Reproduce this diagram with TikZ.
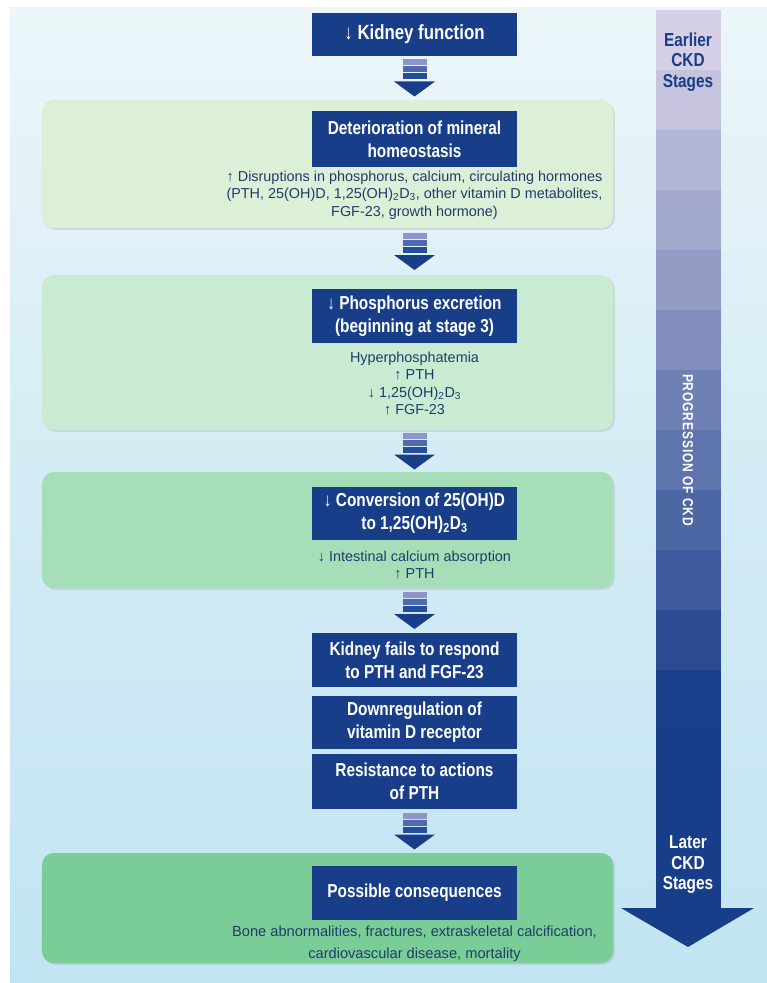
\documentclass[tikz,border=0pt]{standalone}
\usepackage{fontspec}
\setmainfont{Liberation Sans}
\newfontfamily\condfont[FakeStretch=0.82]{Liberation Sans}
\usepackage{tikz}
\usetikzlibrary{calc,shadows}

\definecolor{navy}{RGB}{24,62,138}
\definecolor{lav}{RGB}{214,208,230}
\definecolor{bodyblue}{RGB}{32,60,108}
\definecolor{bgblue}{RGB}{194,228,242}
\definecolor{bglight}{RGB}{236,246,249}
\definecolor{gA}{RGB}{220,239,215}
\definecolor{gB}{RGB}{200,235,210}
\definecolor{gC}{RGB}{166,222,184}
\definecolor{gD}{RGB}{122,205,150}
\definecolor{barA}{RGB}{140,150,200}
\definecolor{barB}{RGB}{80,106,178}
\definecolor{barC}{RGB}{36,78,152}

\tikzset{
  barrow/.pic={
    \fill[barA] (-12,0) rectangle (12,6);
    \fill[barB] (-12,7) rectangle (12,13);
    \fill[barC] (-12,14) rectangle (12,20);
    \fill[navy] (-20.5,22) -- (20.5,22) -- (0,37) -- cycle;
  }
}
% striped arrow between two nodes, in the column of the dark boxes
\newcommand\flowarrow[2]{\pic at ($(#1.south -| kf.center)!0.5!(#2.north -| kf.center)+(0,-18.5)$) {barrow};}

\begin{document}
\begin{tikzpicture}[x=0.03cm,y=-0.03cm,
  darkbox/.style={fill=navy,text=white,align=center,inner sep=0pt,
    minimum width=6.15cm,font=\condfont\bfseries\fontsize{16}{19.5}\selectfont},
  panel/.style={rounded corners=10pt,minimum width=17.13cm,inner sep=0pt,
    drop shadow={shadow xshift=1.5pt,shadow yshift=-1.5pt,opacity=.2}},
  bodytext/.style={text=bodyblue,align=center,font=\fontsize{12.3}{15}\selectfont},
  stage/.style={align=center,font=\condfont\bfseries\fontsize{16}{17.5}\selectfont}]
\useasboundingbox (0,0) rectangle (767,983);
\shade[top color=bglight,bottom color=bgblue,middle color=bgblue!60!bglight] (10,8) rectangle (767,983);

% progression arrow
\foreach \i in {0,...,14}{
  \pgfmathtruncatemacro\p{min(100,\i*9)}
  \fill[navy!\p!lav] (656,10+\i*60) rectangle (721,{min(910,70+\i*60)});
}
\fill[navy] (621,908) -- (754,908) -- (688,947) -- cycle;
\node[stage,text=navy] (early) at (688,62) {Earlier\\CKD\\Stages};
\node[stage,text=white] (late) at (688,865) {Later\\CKD\\Stages};
\node[text=white,rotate=-90,font=\condfont\bfseries\fontsize{12.5}{14}\selectfont\addfontfeature{LetterSpace=6}] (prog) at (688,450) {PROGRESSION OF CKD};

% panels
\node[panel,fill=gA,minimum height=3.84cm] (p1) at (327.5,164) {};
\node[panel,fill=gB,minimum height=4.65cm] (p2) at (327.5,352.5) {};
\node[panel,fill=gC,minimum height=3.48cm] (p3) at (327.5,530) {};
\node[panel,fill=gD,minimum height=3.3cm] (p4) at (327.5,908) {};

\node[darkbox,minimum height=1.29cm,font=\condfont\bfseries\fontsize{17.5}{19}\selectfont] (kf) at (414.5,34.5) {↓ Kidney function};

\node[darkbox,minimum height=1.68cm] (d1) at (414.5,139) {Deterioration of mineral\\homeostasis};
\node[bodytext] (t1) at (414.5,195) {↑ Disruptions in phosphorus, calcium, circulating hormones\\(PTH, 25(OH)D, 1,25(OH)\textsubscript{2}D\textsubscript{3}, other vitamin D metabolites,\\FGF-23, growth hormone)};

\node[darkbox,minimum height=1.62cm] (d2) at (414.5,316) {↓ Phosphorus excretion\\(beginning at stage 3)};
\node[bodytext] (t2) at (414.5,383.5) {Hyperphosphatemia\\↑ PTH\\↓ 1,25(OH)\textsubscript{2}D\textsubscript{3}\\↑ FGF-23};

\node[darkbox,minimum height=1.59cm] (d3) at (414.5,513.5) {↓ Conversion of 25(OH)D\\to 1,25(OH)\textsubscript{2}D\textsubscript{3}};
\node[bodytext] (t3) at (414.5,565) {↓ Intestinal calcium absorption\\↑ PTH};

\node[darkbox,minimum height=1.62cm] (fails) at (414.5,660) {Kidney fails to respond\\to PTH and FGF-23};
\node[darkbox,minimum height=1.59cm] (down) at (414.5,722.5) {Downregulation of\\vitamin D receptor};
\node[darkbox,minimum height=1.65cm] (resist) at (414.5,781.5) {Resistance to actions\\of PTH};

\node[darkbox,minimum height=1.62cm] (d4) at (414.5,893) {Possible consequences};
\node[bodytext,font=\fontsize{12.5}{19}\selectfont] (t4) at (414.5,944) {Bone abnormalities, fractures, extraskeletal calcification,\\cardiovascular disease, mortality};

\flowarrow{kf}{p1}
\flowarrow{p1}{p2}
\flowarrow{p2}{p3}
\flowarrow{p3}{fails}
\flowarrow{resist}{p4}
\end{tikzpicture}
\end{document}
